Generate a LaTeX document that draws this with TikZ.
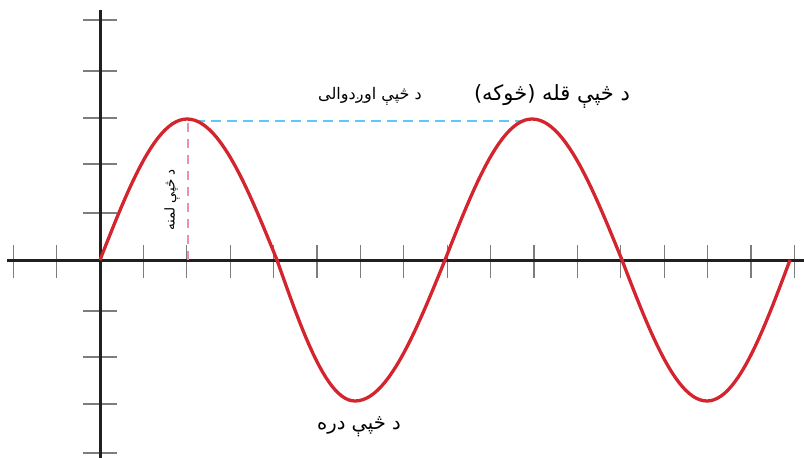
\documentclass[tikz,border=0pt]{standalone}
\usepackage{fontspec}
\newfontfamily\arabicfont[Script=Arabic]{DejaVu Sans}
\TeXXeTstate=1
\definecolor{wavered}{RGB}{212,36,46}
\definecolor{axisblack}{RGB}{35,31,32}
\definecolor{tickgray}{RGB}{125,125,125}
\definecolor{lenblue}{RGB}{95,200,245}
\definecolor{amppink}{RGB}{240,140,180}
\begin{document}
\begin{tikzpicture}[x=1pt,y=-1pt,
  axisline/.style={draw=axisblack,line width=3pt},
  tickline/.style={draw=tickgray,line width=1.3pt},
  wave/.style={draw=wavered,line width=3.3pt,line join=round},
  lenline/.style={draw=lenblue,line width=2.6pt,dash pattern=on 10pt off 6pt},
  ampline/.style={draw=amppink,line width=2.6pt,dash pattern=on 9pt off 7pt},
  lbl/.style={inner sep=0pt,font=\arabicfont}]
\useasboundingbox (0,0) rectangle (804,458);
% axes
\coordinate (xl) at (7,260);
\coordinate (xr) at (804,260);
\coordinate (yt) at (100,10);
\coordinate (yb) at (100,458);
% ticks
\foreach \k in {-2,-1,1,2,...,16}
  \draw[tickline] ({100+43.4*\k},245) -- ({100+43.4*\k},278);
\foreach \yy in {20,71,118,164,213,311,357,404,453}
  \draw[tickline] (83,\yy) -- (117,\yy);
\draw[axisline] (xl) -- (xr);
\draw[axisline] (yt) -- (yb);
% guides
\coordinate (peakA) at (188,123);
\coordinate (footA) at (188,260);
\coordinate (lenA) at (195,121);
\coordinate (lenB) at (528,121);
\draw[ampline] (peakA) -- (footA);
\draw[lenline] (lenA) -- (lenB);
% wave
\draw[wave] (100,260) foreach \xa/\xb [count=\k from 0] in
  {100/187,187/277,277/355,355/445,445/532,532/622,622/707,707/790}
  { -- plot[domain=0:1,samples=25] ({\xa+(\xb-\xa)*\x},{260-141*sin(90*(\k+\x))}) };
% labels
\node[lbl,font=\arabicfont\fontsize{16}{19}\selectfont] (lenlbl) at (370,96) {\beginR د څپې اوږدوالی\endR};
\node[lbl,font=\arabicfont\fontsize{21}{25}\selectfont] (peaklbl) at (552,96) {\beginR د څپې قله (څوکه)\endR};
\node[lbl,font=\arabicfont\fontsize{13.5}{16}\selectfont,rotate=90] (amplbl) at (172,200) {\beginR د څپې لمنه\endR};
\node[lbl,font=\arabicfont\fontsize{19.5}{23}\selectfont] (troughlbl) at (359,427) {\beginR د څپې دره\endR};
\end{tikzpicture}
\end{document}
